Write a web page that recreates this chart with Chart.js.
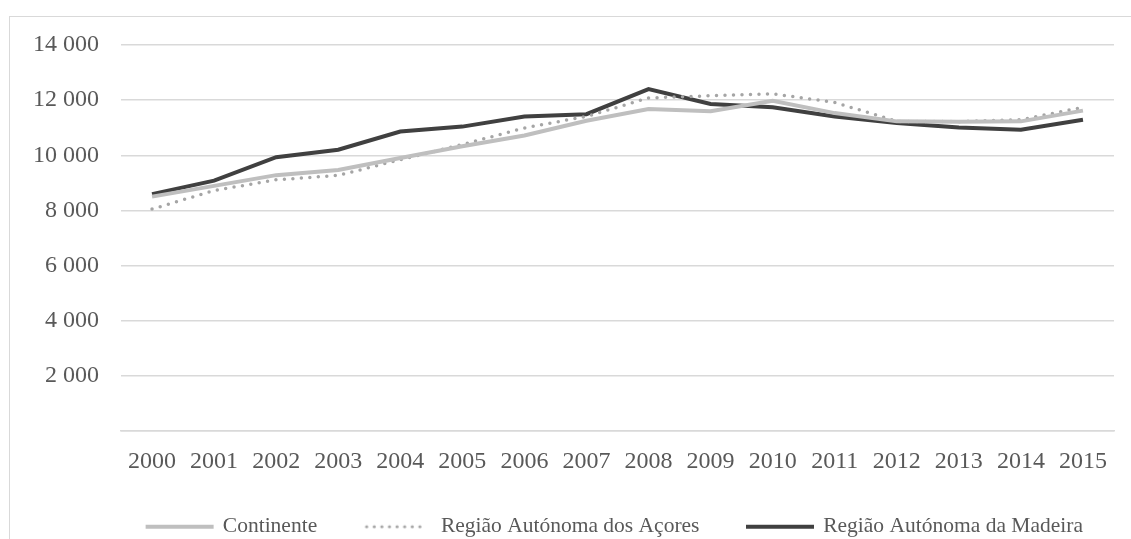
<!DOCTYPE html>
<html>
<head>
<meta charset="utf-8">
<script src="https://cdn.jsdelivr.net/npm/chart.js@4.4.1/dist/chart.umd.min.js"></script>
<style>
  html, body { margin: 0; padding: 0; background: #fff; }
  #wrap { position: relative; width: 1131px; height: 539px; overflow: hidden; }
  #frame { position: absolute; left: 9px; top: 16px; width: 1200px; height: 600px;
           border-left: 1.5px solid #d9d9d9; border-top: 1.5px solid #d9d9d9; }
  canvas { position: absolute; left: 0; top: 0; }
</style>
</head>
<body>
<div id="wrap">
  <div id="frame"></div>
  <canvas id="c" width="1131" height="539"></canvas>
</div>
<script>
const categories = ['2000','2001','2002','2003','2004','2005','2006','2007','2008','2009','2010','2011','2012','2013','2014','2015'];
const continente = [8500, 8890, 9280, 9470, 9900, 10330, 10720, 11250, 11680, 11600, 11980, 11530, 11230, 11220, 11230, 11620];
const acores = [8050, 8720, 9110, 9270, 9840, 10390, 10990, 11410, 12080, 12160, 12230, 11920, 11230, 11220, 11290, 11740];
const madeira = [8590, 9080, 9930, 10200, 10860, 11040, 11410, 11490, 12400, 11860, 11740, 11410, 11170, 11010, 10930, 11290];
const seriesNames = ['Continente', 'Região Autónoma dos Açores', 'Região Autónoma da Madeira'];
const yTicks = [0, 2000, 4000, 6000, 8000, 10000, 12000, 14000];

function legendImg(color, dotted) {
  const cv = document.createElement('canvas');
  cv.width = 70; cv.height = 8;
  const g = cv.getContext('2d');
  g.strokeStyle = color;
  if (dotted) {
    g.fillStyle = color;
    for (let k = 0; k < 8; k++) {
      g.beginPath(); g.arc(4 + 7.6 * k, 4, 1.6, 0, Math.PI * 2); g.fill();
    }
  } else {
    g.lineWidth = 4;
    g.beginPath(); g.moveTo(1, 4); g.lineTo(69, 4); g.stroke();
  }
  return cv;
}

const colors = ['#bfbfbf', '#a5a5a5', '#404040'];
const imgs = [legendImg(colors[0], false), legendImg(colors[1], true), legendImg(colors[2], false)];

const fmt = v => String(v).replace(/\B(?=(\d{3})+(?!\d))/g, ' ');
const serif = '"Liberation Serif", "Times New Roman", serif';

const legendPlacer = {
  id: 'legendPlacer',
  beforeDraw(chart) {
    const lg = chart.legend;
    if (!lg) return;
    lg.left = 99; lg.right = 1131; lg.width = lg.right - lg.left;
    lg.top = 468; lg.bottom = 539; lg.height = lg.bottom - lg.top;
  }
};

new Chart(document.getElementById('c'), {
  type: 'line',
  data: {
    labels: categories,
    datasets: [
      { label: seriesNames[0], data: continente, borderColor: colors[0], borderWidth: 4, pointRadius: 0, tension: 0, pointStyle: imgs[0] },
      { label: seriesNames[1], data: acores, borderColor: colors[1], borderWidth: 3.5, borderDash: [0, 8.5], borderCapStyle: 'round', pointRadius: 0, tension: 0, pointStyle: imgs[1] },
      { label: seriesNames[2], data: madeira, borderColor: colors[2], borderWidth: 4, pointRadius: 0, tension: 0, pointStyle: imgs[2] }
    ]
  },
  plugins: [legendPlacer],
  options: {
    responsive: false,
    animation: false,
    layout: { padding: { left: 5, right: 17, top: 45, bottom: 0 } },
    plugins: {
      tooltip: { enabled: false },
      legend: {
        position: 'bottom',
        maxHeight: 40,
        labels: {
          usePointStyle: true,
          pointStyleWidth: 65,
          boxHeight: 8,
          padding: 48,
          color: '#595959',
          font: { family: serif, size: 21.5 }
        }
      }
    },
    scales: {
      x: {
        offset: true,
        grid: { display: false, drawTicks: false },
        border: { display: true, color: '#d9d9d9', width: 1.5 },
        ticks: { color: '#595959', padding: 16, maxRotation: 0, autoSkip: false,
                 font: { family: serif, size: 24 } },
        afterFit: s => { s.height = 68; }
      },
      y: {
        min: 0, max: 14000,
        afterBuildTicks: s => { s.ticks = yTicks.map(v => ({ value: v })); },
        grid: { color: '#d9d9d9', lineWidth: 1.5, drawTicks: false },
        border: { display: false },
        ticks: { color: '#595959', padding: 22,
                 font: { family: serif, size: 24 },
                 callback: v => v === 0 ? '' : fmt(v) },
        afterFit: s => { s.width = 116; }
      }
    }
  }
});
</script>
</body>
</html>
